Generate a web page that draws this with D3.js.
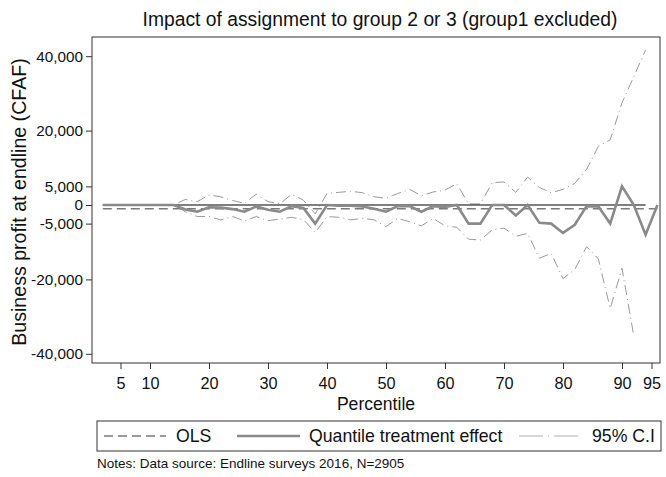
<!DOCTYPE html>
<html><head><meta charset="utf-8">
<script src="https://cdn.jsdelivr.net/npm/d3@7"></script>
<style>
body{margin:0;background:#fff}
svg{display:block}
text{font-family:"Liberation Sans",Arial,Helvetica,sans-serif;fill:#111}
</style>
</head><body>
<svg id="c" width="666" height="477"></svg>
<script>
// ---------------- data ----------------
const percentiles = [2,4,6,8,10,12,14,16,18,20,22,24,26,28,30,32,34,36,38,40,42,44,46,48,50,52,54,56,58,60,62,64,66,68,70,72,74,76,78,80,82,84,86,88,90,92,94,96];
const qte = [0,0,0,0,0,0,0,-1200,-1800,-600,-700,-1100,-1800,-400,-1300,-1800,-300,-800,-5000,0,-200,-200,-400,-1000,-1800,-300,-300,-1800,-300,-500,0,-5000,-5000,0,0,-2800,0,-4800,-5000,-7500,-5300,-300,-400,-5000,5000,0,-8000,0];
const ciUpper = [0,0,0,0,0,0,0,1500,900,2700,2200,1200,450,2900,900,300,2900,1300,-2400,3100,3400,3700,3300,2200,1800,3100,4200,2500,3500,4000,5700,300,300,6000,6200,3400,7500,4700,3300,4200,5800,9600,15800,17500,27500,34500,41700,null];
const ciLower = [0,0,0,0,0,0,0,-1800,-3100,-3100,-4000,-3100,-4300,-3100,-4200,-3800,-3300,-3900,-7400,-3100,-3300,-4000,-3600,-4000,-5800,-3600,-4500,-5600,-3600,-5600,-6000,-9200,-9400,-6700,-6200,-8400,-7600,-14300,-13000,-19800,-17300,-11200,-14500,-27800,-17000,-35200,null,null];
const olsEffect = -1000;
const zeroSpan = [2, 94];
const yTicks = [40000, 20000, 5000, 0, -5000, -20000, -40000];
const xTicks = [5, 10, 20, 30, 40, 50, 60, 70, 80, 90, 95];
const titleText = "Impact of assignment to group 2 or 3 (group1 excluded)";
const yLabel = "Business profit at endline (CFAF)";
const xLabel = "Percentile";
const legendLabels = ["OLS", "Quantile treatment effect", "95% C.I"];
const noteText = "Notes: Data source: Endline surveys 2016, N=2905";

// ---------------- layout ----------------
const svg = d3.select("#c");
const P = {left: 92, right: 660, top: 37, bottom: 363};
const x = d3.scaleLinear().domain([0.17, 96.44]).range([P.left, P.right]);
const y = d3.scaleLinear().domain([-42470, 45160]).range([P.bottom, P.top]);

const rows = percentiles.map((p, i) => ({p, q: qte[i], u: ciUpper[i], l: ciLower[i]}));

// title
svg.append("text").attr("x", 380).attr("y", 26).attr("text-anchor", "middle")
  .style("font-size", "19.3px").text(titleText);

// plot box
svg.append("rect").attr("x", P.left).attr("y", P.top)
  .attr("width", P.right - P.left).attr("height", P.bottom - P.top)
  .attr("fill", "#fff").attr("stroke", "#333").attr("stroke-width", 1);

const fmt = d => d3.format(",")(d).replace("\u2212", "-");

// y axis
const gy = svg.append("g").attr("transform", `translate(${P.left},0)`)
  .call(d3.axisLeft(y).tickValues(yTicks).tickFormat(fmt).tickSize(6).tickPadding(3));
gy.select(".domain").remove();
gy.selectAll("line").attr("stroke", "#333");
gy.selectAll("text").style("font-size", "15.3px").style("fill", "#111");

// x axis
const gx = svg.append("g").attr("transform", `translate(0,${P.bottom})`)
  .call(d3.axisBottom(x).tickValues(xTicks).tickFormat(d => d).tickSize(6).tickPadding(8));
gx.select(".domain").remove();
gx.selectAll("line").attr("stroke", "#333");
gx.selectAll("text").style("font-size", "16.3px").style("fill", "#111");

// axis titles
svg.append("text").attr("transform", "translate(26,202) rotate(-90)")
  .attr("text-anchor", "middle").style("font-size", "19.6px").text(yLabel);
svg.append("text").attr("x", (P.left + P.right) / 2).attr("y", 410)
  .attr("text-anchor", "middle").style("font-size", "17.6px").text(xLabel);

// series
const g = svg.append("g");
const lineU = d3.line().defined(d => d.u !== null).x(d => x(d.p)).y(d => y(d.u));
const lineL = d3.line().defined(d => d.l !== null).x(d => x(d.p)).y(d => y(d.l));
const lineQ = d3.line().x(d => x(d.p)).y(d => y(d.q));

const ciStyle = sel => sel.attr("fill", "none").attr("stroke", "#9a9a9a")
  .attr("stroke-width", 1).attr("stroke-dasharray", "10,4,1,4");
g.append("path").datum(rows).attr("d", lineU).call(ciStyle);
g.append("path").datum(rows).attr("d", lineL).call(ciStyle);

// OLS dashed
g.append("line")
  .attr("x1", x(percentiles[0])).attr("x2", x(percentiles[percentiles.length - 1]))
  .attr("y1", y(olsEffect)).attr("y2", y(olsEffect))
  .attr("stroke", "#7a7a7a").attr("stroke-width", 1.5).attr("stroke-dasharray", "9,5");

// zero line
g.append("line")
  .attr("x1", x(zeroSpan[0])).attr("x2", x(zeroSpan[1]))
  .attr("y1", y(0)).attr("y2", y(0))
  .attr("stroke", "#000").attr("stroke-width", 1.2);

// QTE
g.append("path").datum(rows).attr("d", lineQ)
  .attr("fill", "none").attr("stroke", "#8a8a8a").attr("stroke-width", 2.6)
  .attr("stroke-linejoin", "miter");

// legend
const L = {x: 97, y: 421, w: 564, h: 30};
const lg = svg.append("g");
lg.append("rect").attr("x", L.x).attr("y", L.y).attr("width", L.w).attr("height", L.h)
  .attr("fill", "#fff").attr("stroke", "#333").attr("stroke-width", 1);
const ly = L.y + L.h / 2;
lg.append("line").attr("x1", 104).attr("x2", 166).attr("y1", ly).attr("y2", ly)
  .attr("stroke", "#7a7a7a").attr("stroke-width", 1.5).attr("stroke-dasharray", "9,5");
lg.append("text").attr("x", 176).attr("y", ly + 6).style("font-size", "17.7px").text(legendLabels[0]);
lg.append("line").attr("x1", 237).attr("x2", 300).attr("y1", ly).attr("y2", ly)
  .attr("stroke", "#8a8a8a").attr("stroke-width", 2.6);
lg.append("text").attr("x", 309).attr("y", ly + 6).style("font-size", "17.7px").text(legendLabels[1]);
lg.append("line").attr("x1", 519).attr("x2", 580).attr("y1", ly).attr("y2", ly)
  .attr("stroke", "#b0b0b0").attr("stroke-width", 1).attr("stroke-dasharray", "24,5,1,5");
lg.append("text").attr("x", 592).attr("y", ly + 6).style("font-size", "17.7px").text(legendLabels[2]);

// note
svg.append("text").attr("x", 97).attr("y", 468).style("font-size", "13.5px").text(noteText);
</script>
</body></html>
